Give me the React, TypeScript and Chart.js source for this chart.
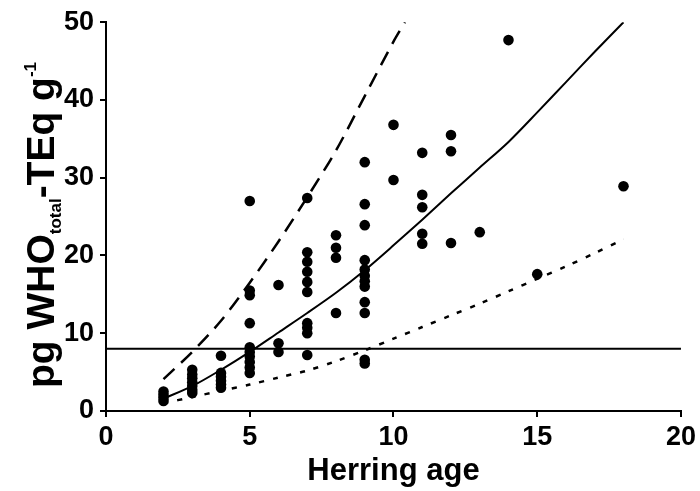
import { useEffect, useRef } from "react";
import { Chart, registerables } from "chart.js";

Chart.register(...registerables);

// Observed herring samples: age (years) and TEQ (pg WHO-TEq per g)
const obsAge = [
  2, 2, 2, 2,
  3, 3, 3, 3, 3, 3, 3,
  4, 4, 4, 4, 4, 4,
  5, 5, 5, 5, 5, 5, 5, 5, 5, 5,
  6, 6, 6,
  7, 7, 7, 7, 7, 7, 7, 7, 7, 7,
  8, 8, 8, 8,
  9, 9, 9, 9, 9, 9, 9, 9, 9, 9, 9, 9,
  10, 10,
  11, 11, 11, 11, 11,
  12, 12, 12,
  13, 14, 15, 18,
];
const obsTeq = [
  1.3, 1.7, 2.1, 2.5,
  2.3, 2.7, 3.2, 3.7, 4.2, 4.7, 5.3,
  7.1, 4.9, 4.4, 3.9, 3.4, 3.0,
  27.0, 15.5, 14.9, 11.3, 8.2, 7.6, 7.0, 6.3, 5.6, 4.9,
  16.2, 8.7, 7.6,
  27.4, 20.4, 19.2, 17.9, 16.6, 15.3, 11.3, 10.7, 10.0, 7.2,
  22.6, 21.0, 19.7, 12.6,
  32.0, 26.6, 23.9, 19.4, 18.2, 17.4, 16.7, 16.0, 14.0, 12.6, 6.6, 6.1,
  36.8, 29.7,
  33.2, 27.8, 26.2, 22.8, 21.5,
  35.5, 33.4, 21.6,
  23.0, 47.7, 17.6, 28.9,
];

// Model curves
const curveAge = [2, 3, 4, 5, 6, 7, 8, 9, 10, 11, 12, 13, 14, 15, 16, 17, 18];
const medianCurve = [1.6, 3.2, 5.3, 7.6, 10.1, 12.6, 15.2, 18.1, 21.3, 24.6, 28.0, 31.3, 34.6, 38.4, 42.3, 46.2, 50.0];
const lowerCurve = [1.0, 1.8, 2.6, 3.4, 4.3, 5.2, 6.4, 7.8, 9.3, 10.8, 12.3, 13.8, 15.4, 17.0, 18.6, 20.3, 22.1];
const upperAge = [2, 3, 4, 5, 6, 7, 8, 9, 10, 10.4];
const upperCurve = [4.1, 7.6, 11.6, 16.5, 21.8, 27.5, 33.5, 40.5, 47.5, 50.0];

// Reference limit
const limitAge = [0, 20];
const limitTeq = [8, 8];

const xTicks = [0, 5, 10, 15, 20];
const yTicks = [0, 10, 20, 30, 40, 50];

const FONT = "'Liberation Sans', Arial, Helvetica, sans-serif";

const pts = (xs: number[], ys: number[]) => xs.map((x, i) => ({ x, y: ys[i] }));

const titlePlugin = {
  id: "customTitles",
  afterDraw(chart: any) {
    const ctx = chart.ctx as CanvasRenderingContext2D;
    const area = chart.chartArea;
    ctx.save();
    ctx.fillStyle = "#000";
    // X title
    ctx.font = `bold 31px ${FONT}`;
    ctx.textAlign = "center";
    ctx.textBaseline = "alphabetic";
    ctx.fillText("Herring age", (area.left + area.right) / 2, 480);

    // Y title with subscript and superscript
    const big = `bold 39px ${FONT}`;
    const small = `bold 17px ${FONT}`;
    const parts: { t: string; f: string; dy: number }[] = [
      { t: "pg WHO", f: big, dy: 0 },
      { t: "total", f: small, dy: 7 },
      { t: "-TEq g", f: big, dy: 0 },
      { t: "-1", f: small, dy: -18 },
    ];
    let w = 0;
    for (const p of parts) {
      ctx.font = p.f;
      w += ctx.measureText(p.t).width;
    }
    ctx.translate(54, 225);
    ctx.rotate(-Math.PI / 2);
    ctx.textAlign = "left";
    let x = -w / 2;
    for (const p of parts) {
      ctx.font = p.f;
      ctx.fillText(p.t, x, p.dy);
      x += ctx.measureText(p.t).width;
    }
    ctx.restore();
  },
};

export default function App() {
  const ref = useRef<HTMLCanvasElement | null>(null);

  useEffect(() => {
    document.body.style.margin = "0";
    if (!ref.current) return;
    const chart = new Chart(ref.current, {
      type: "scatter",
      data: {
        datasets: [
          {
            label: "limit",
            data: pts(limitAge, limitTeq),
            showLine: true,
            borderColor: "#000",
            borderWidth: 2,
            pointRadius: 0,
          },
          {
            label: "upper",
            data: pts(upperAge, upperCurve),
            showLine: true,
            borderColor: "#000",
            borderWidth: 2.5,
            borderDash: [15, 9],
            pointRadius: 0,
            tension: 0.3,
          },
          {
            label: "median",
            data: pts(curveAge, medianCurve),
            showLine: true,
            borderColor: "#000",
            borderWidth: 2,
            pointRadius: 0,
            tension: 0.3,
          },
          {
            label: "lower",
            data: pts(curveAge, lowerCurve),
            showLine: true,
            borderColor: "#000",
            borderWidth: 2.5,
            borderDash: [5, 9],
            pointRadius: 0,
            tension: 0.3,
          },
          {
            label: "samples",
            data: pts(obsAge, obsTeq),
            backgroundColor: "#000",
            borderColor: "#000",
            borderWidth: 0,
            pointRadius: 5.3,
          },
        ],
      },
      options: {
        animation: false,
        responsive: false,
        maintainAspectRatio: false,
        layout: { padding: { top: 22, right: 18, left: 0, bottom: 0 } },
        plugins: { legend: { display: false }, tooltip: { enabled: false } },
        scales: {
          x: {
            type: "linear",
            min: 0,
            max: 20,
            afterFit: (s: any) => {
              s.height = 80;
            },
            afterBuildTicks: (s: any) => {
              s.ticks = xTicks.map((v) => ({ value: v }));
            },
            border: { color: "#000", width: 2 },
            grid: { drawOnChartArea: false, drawTicks: true, tickLength: 6, color: "#000", lineWidth: 2 },
            ticks: { color: "#000", font: { family: FONT, size: 27, weight: "bold" }, padding: 4, maxRotation: 0 },
          },
          y: {
            type: "linear",
            min: 0,
            max: 50,
            afterFit: (s: any) => {
              s.width = 106;
            },
            afterBuildTicks: (s: any) => {
              s.ticks = yTicks.map((v) => ({ value: v }));
            },
            border: { color: "#000", width: 2 },
            grid: { drawOnChartArea: false, drawTicks: true, tickLength: 6, color: "#000", lineWidth: 2 },
            ticks: { color: "#000", font: { family: FONT, size: 27, weight: "bold" }, padding: 6 },
          },
        },
      },
      plugins: [titlePlugin],
    });
    return () => chart.destroy();
  }, []);

  return (
    <div style={{ position: "absolute", left: 0, top: 0, width: 700, height: 491, background: "#fff" }}>
      <canvas ref={ref} width={700} height={491} style={{ width: 700, height: 491 }} />
    </div>
  );
}
